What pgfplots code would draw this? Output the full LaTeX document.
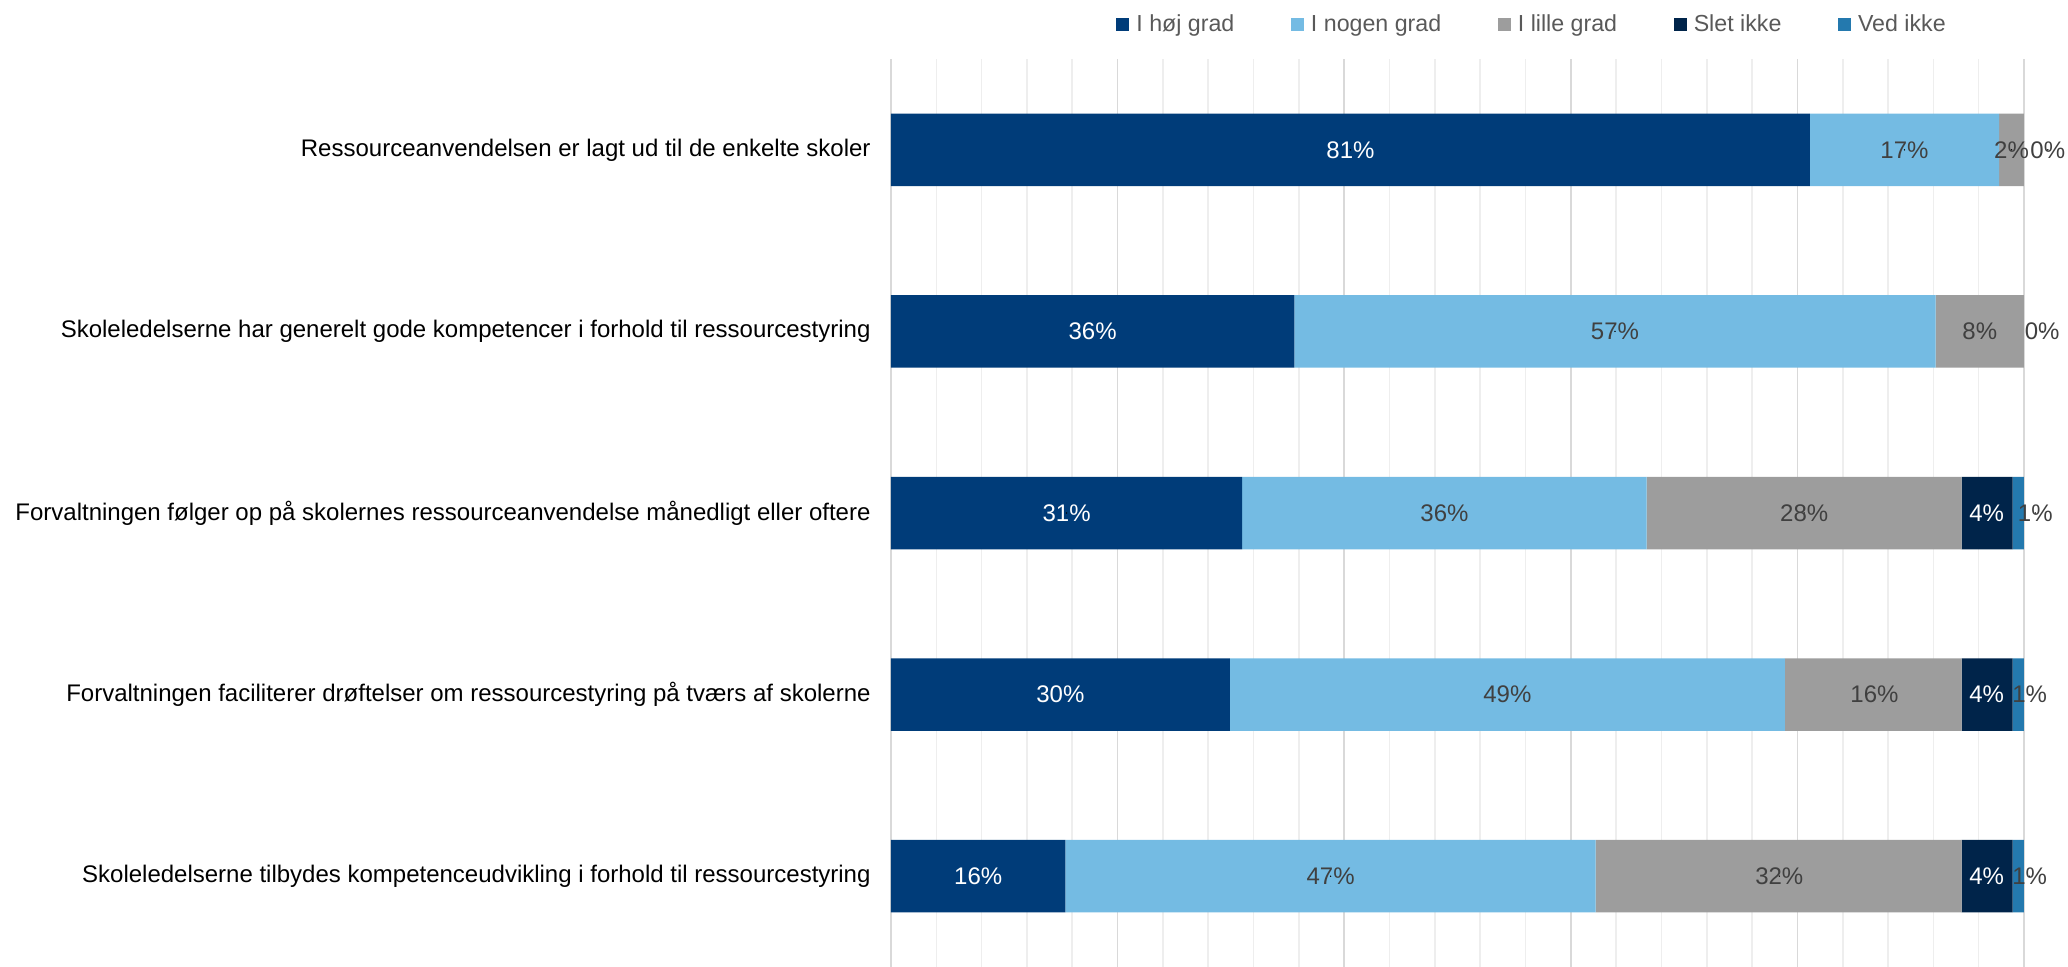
\documentclass[border=0pt]{standalone}
\usepackage{fontspec}
\setmainfont{Liberation Sans}
\usepackage{pgfplots}
\pgfplotsset{compat=1.18}

\definecolor{cHoj}{HTML}{003C79}
\definecolor{cNogen}{HTML}{74BBE3}
\definecolor{cLille}{HTML}{9D9D9D}
\definecolor{cSlet}{HTML}{00244A}
\definecolor{cVed}{HTML}{2479AE}
\definecolor{txtgray}{HTML}{404040}
\definecolor{leggray}{HTML}{595959}
\definecolor{majgrid}{HTML}{D9D9D9}
\definecolor{mingrid}{HTML}{EEEEEE}

\newcommand\lbl{\fontsize{12}{14}\selectfont}
\newcommand\leg{\fontsize{11.6}{13.6}\selectfont}

\pgfplotsset{
  /pgf/number format/assume math mode=true,
  sqlegend/.style={legend image code/.code={\fill[##1] (0pt,-3.25pt) rectangle (6.5pt,3.25pt);}},
  common/.style={
    at={(0,0)}, anchor=south west,
    scale only axis, width=566.5pt, height=454pt,
    xmin=0, xmax=100, ymin=-0.5, ymax=4.5, y dir=reverse,
  },
  lblplot/.style={only marks, mark=*, mark size=0.1pt, mark options={draw=none, fill=none},
    point meta=explicit,
    nodes near coords={\pgfmathprintnumber[fixed,precision=0,assume math mode=true]{\pgfplotspointmeta}\%},
    every node near coord/.style={anchor=center, font=\lbl, text=#1, inner sep=0pt}},
}

\begin{document}
\begin{tikzpicture}
\path[use as bounding box] (-445.5pt,0pt) rectangle (588.5pt,483.5pt);

\begin{axis}[common,
  xbar stacked, bar width=36.25pt,
  ytick={0,1,2,3,4},
  yticklabels={Ressourceanvendelsen er lagt ud til de enkelte skoler,
    Skoleledelserne har generelt gode kompetencer i forhold til ressourcestyring,
    Forvaltningen følger op på skolernes ressourceanvendelse månedligt eller oftere,
    Forvaltningen faciliterer drøftelser om ressourcestyring på tværs af skolerne,
    Skoleledelserne tilbydes kompetenceudvikling i forhold til ressourcestyring},
  yticklabel style={font=\lbl, text=black, inner sep=0pt, xshift=-10pt},
  major tick length=0pt, minor tick length=0pt,
  xtick={0,20,40,60,80,100}, xticklabel=\empty, minor x tick num=4,
  xmajorgrids, xminorgrids,
  major grid style={majgrid, line width=0.8pt},
  minor grid style={mingrid, line width=0.8pt},
  axis line style={draw=none},
  legend columns=5,
  legend style={at={(0.1986,1.038)}, anchor=west, draw=none, fill=none,
    font=\leg, text=leggray, inner sep=0pt, column sep=0pt,
    nodes={inner sep=0pt},
    /tikz/every odd column/.append style={column sep=3.5pt},
    /tikz/every even column/.append style={column sep=28.3pt}},
]
\addplot[fill=cHoj, draw=none, sqlegend] coordinates {(81.1,0) (35.6,1) (31.0,2) (29.9,3) (15.4,4)};
\addplot[fill=cNogen, draw=none, sqlegend] coordinates {(16.7,0) (56.6,1) (35.7,2) (49.0,3) (46.8,4)};
\addplot[fill=cLille, draw=none, sqlegend] coordinates {(2.2,0) (7.8,1) (27.8,2) (15.6,3) (32.3,4)};
\addplot[fill=cSlet, draw=none, sqlegend] coordinates {(0,0) (0,1) (4.5,2) (4.5,3) (4.5,4)};
\addplot[fill=cVed, draw=none, sqlegend] coordinates {(0,0) (0,1) (1.0,2) (1.0,3) (1.0,4)};
\legend{I høj grad, I nogen grad, I lille grad, Slet ikke, Ved ikke}
\end{axis}

\begin{axis}[common, hide axis, clip=false]
\addplot[lblplot=white] table[x=x, y=y, meta=v] {
x y v
40.55 0 81
17.8 1 36
15.5 2 31
14.95 3 30
7.7 4 16
96.7 2 4
96.7 3 4
96.7 4 4
};
\addplot[lblplot=txtgray] table[x=x, y=y, meta=v] {
x y v
89.45 0 17
63.9 1 57
48.85 2 36
54.4 3 49
38.8 4 47
98.9 0 2
96.1 1 8
80.6 2 28
86.8 3 16
78.4 4 32
102.1 0 0
101.6 1 0
101.0 2 1
100.5 3 1
100.5 4 1
};
\end{axis}
\end{tikzpicture}
\end{document}
